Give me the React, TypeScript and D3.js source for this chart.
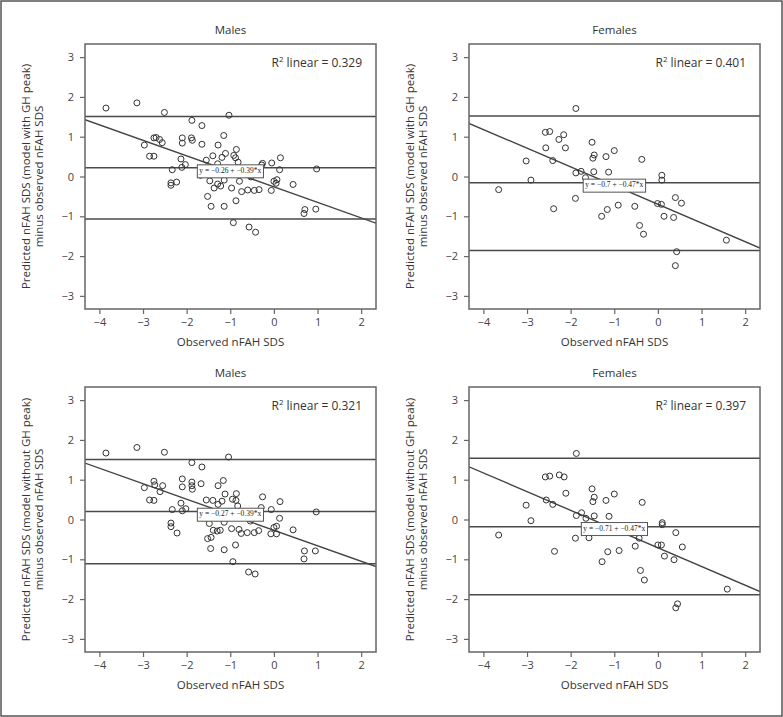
import React, { useEffect, useRef } from 'react';
import * as d3 from 'd3';

const panelTitles = ['Males', 'Females', 'Males', 'Females'];
const yTitlesLine1 = [
  'Predicted nFAH SDS (model with GH peak)',
  'Predicted nFAH SDS (model with GH peak)',
  'Predicted nFAH SDS (model without GH peak)',
  'Predicted nFAH SDS (model without GH peak)',
];
const yTitleLine2 = 'minus observed nFAH SDS';
const xTitle = 'Observed nFAH SDS';
const r2Values = ['0.329', '0.401', '0.321', '0.397'];
const intercepts = [-0.26, -0.7, -0.27, -0.71];
const slopes = [-0.39, -0.47, -0.39, -0.47];
const equationLabels = ['y = −0.26 + −0.39*x', 'y = −0.7 + −0.47*x', 'y = −0.27 + −0.39*x', 'y = −0.71 + −0.47*x'];
const upperLimits = [1.51, 1.52, 1.51, 1.54];
const meanDiffs = [0.22, -0.16, 0.2, -0.18];
const lowerLimits = [-1.07, -1.86, -1.11, -1.89];
const xTicks = [-4, -3, -2, -1, 0, 1, 2];
const yTicks = [-3, -2, -1, 0, 1, 2, 3];

const malesWithGH: [number, number][] = [
  [-3.85, 1.72], [-3.14, 1.85], [-2.51, 1.61], [-1.03, 1.54], [-1.88, 1.41], [-1.65, 1.28], [-1.15, 1.03],
  [-2.75, 0.97], [-2.7, 0.98], [-2.62, 0.93], [-2.56, 0.85], [-2.1, 0.97], [-1.89, 0.97], [-1.87, 0.91],
  [-2.1, 0.84], [-2.97, 0.79], [-1.65, 0.81], [-1.28, 0.79], [-1.11, 0.58], [-0.86, 0.68], [-0.92, 0.53],
  [-0.88, 0.47], [-1.19, 0.48], [-1.4, 0.52], [-2.85, 0.51], [-2.75, 0.51], [-2.13, 0.44], [-2.03, 0.3],
  [-2.11, 0.23], [-1.55, 0.41], [-1.29, 0.32], [-0.82, 0.36], [-0.26, 0.33], [-0.28, 0.29], [-0.05, 0.34],
  [0.15, 0.47], [0.13, 0.17], [0.98, 0.19], [-2.33, 0.17], [-1.68, 0.03], [-1.47, -0.11], [-1.29, -0.19],
  [-1.22, -0.24], [-1.37, -0.29], [-1.14, -0.09], [-0.97, -0.29], [-0.79, -0.12], [-0.74, -0.38],
  [-0.6, -0.34], [-0.45, -0.35], [-0.34, -0.33], [-0.53, -0.01], [-0.06, -0.35], [0.0, -0.12], [0.07, -0.08],
  [0.05, -0.17], [0.44, -0.2], [-2.36, -0.16], [-2.36, -0.22], [-2.23, -0.14], [-1.52, -0.5], [-1.44, -0.75],
  [-1.14, -0.75], [-0.87, -0.61], [0.71, -0.83], [0.69, -0.93], [0.96, -0.82], [-0.93, -1.16], [-0.57, -1.27],
  [-0.42, -1.4],
];

const femalesWithGH: [number, number][] = [
  [-1.88, 1.71], [-2.58, 1.11], [-2.48, 1.13], [-2.16, 1.05], [-2.27, 0.93], [-2.57, 0.72], [-2.12, 0.72],
  [-1.51, 0.86], [-1.0, 0.65], [-1.46, 0.54], [-1.49, 0.46], [-1.19, 0.5], [-0.37, 0.43], [-3.02, 0.39],
  [-2.41, 0.4], [-1.88, 0.09], [-1.76, 0.13], [-1.66, -0.03], [-1.47, 0.12], [-1.13, 0.11], [-2.91, -0.09],
  [0.09, 0.03], [0.09, -0.09], [-3.65, -0.33], [-1.89, -0.55], [-2.39, -0.81], [-1.29, -1.0], [-1.16, -0.83],
  [-0.91, -0.72], [-0.53, -0.75], [-0.01, -0.68], [0.08, -0.7], [0.4, -0.53], [0.54, -0.67], [0.14, -1.0],
  [0.36, -1.03], [-0.42, -1.23], [-0.33, -1.45], [1.57, -1.6], [0.43, -1.89], [0.4, -2.24],
];

const malesWithoutGH: [number, number][] = [
  [-3.85, 1.67], [-3.14, 1.81], [-2.51, 1.69], [-1.04, 1.57], [-1.88, 1.43], [-1.65, 1.32], [-1.16, 0.98],
  [-2.1, 1.02], [-2.75, 0.96], [-2.73, 0.87], [-2.55, 0.85], [-2.97, 0.8], [-1.88, 0.94], [-1.88, 0.85],
  [-1.87, 0.76], [-2.1, 0.82], [-1.67, 0.9], [-1.28, 0.85], [-2.61, 0.7], [-1.12, 0.64], [-0.86, 0.65],
  [-0.95, 0.51], [-0.87, 0.48], [-1.19, 0.46], [-1.55, 0.49], [-1.4, 0.48], [-1.28, 0.38], [-0.83, 0.34],
  [-0.26, 0.57], [0.14, 0.45], [-2.85, 0.49], [-2.75, 0.48], [-2.13, 0.41], [-2.02, 0.27], [-2.1, 0.22],
  [-2.33, 0.25], [-0.29, 0.3], [-0.06, 0.25], [0.97, 0.19], [-1.68, 0.05], [-2.36, -0.09], [-2.36, -0.18],
  [-2.22, -0.34], [-1.48, -0.1], [-1.14, -0.07], [-1.39, -0.27], [-1.3, -0.29], [-1.23, -0.27], [-0.97, -0.23],
  [-0.8, -0.25], [-0.75, -0.35], [-0.61, -0.33], [-0.45, -0.33], [-0.35, -0.28], [-0.54, -0.04], [0.13, 0.03],
  [0.0, -0.2], [0.06, -0.17], [-0.07, -0.36], [0.06, -0.36], [0.44, -0.26], [-1.52, -0.48], [-1.44, -0.45],
  [-1.45, -0.73], [-1.14, -0.76], [-0.88, -0.64], [0.7, -0.79], [0.95, -0.79], [0.69, -0.99], [-0.94, -1.06],
  [-0.58, -1.32], [-0.43, -1.37],
];

const femalesWithoutGH: [number, number][] = [
  [-1.87, 1.66], [-2.58, 1.07], [-2.48, 1.09], [-2.26, 1.12], [-2.15, 1.07], [-1.51, 0.77], [-2.11, 0.66],
  [-1.0, 0.64], [-1.46, 0.56], [-1.49, 0.45], [-1.19, 0.48], [-0.36, 0.43], [-2.56, 0.49], [-3.02, 0.36],
  [-2.41, 0.38], [-1.87, 0.1], [-1.75, 0.17], [-1.65, 0.03], [-1.46, 0.09], [-1.12, 0.08], [-2.91, -0.03],
  [0.1, -0.08], [0.1, -0.13], [-3.65, -0.39], [-1.89, -0.47], [-1.58, -0.46], [-2.37, -0.8], [-1.28, -1.06],
  [-1.15, -0.81], [-0.89, -0.78], [-0.52, -0.67], [-0.43, -0.47], [0.41, -0.33], [0.0, -0.64], [0.08, -0.64],
  [0.56, -0.69], [0.15, -0.92], [0.37, -1.01], [-0.4, -1.28], [-0.31, -1.52], [1.59, -1.75], [0.45, -2.12],
  [0.41, -2.22],
];

const panelData = [malesWithGH, femalesWithGH, malesWithoutGH, femalesWithoutGH];

const WIDTH = 783;
const HEIGHT = 717;
const colLefts = [85, 469];
const rowTops = [44, 387];
const PW = 291;
const PH = 265;
const FONT = '"Open Sans", "DejaVu Sans", sans-serif';

export default function App() {
  const ref = useRef<SVGSVGElement | null>(null);

  useEffect(() => {
    const svg = d3.select(ref.current);
    svg.selectAll('*').remove();

    svg.append('rect')
      .attr('x', 1).attr('y', 1).attr('width', WIDTH - 2).attr('height', HEIGHT - 2)
      .attr('fill', '#fff').attr('stroke', '#555').attr('stroke-width', 1.5);

    panelData.forEach((pts, i) => {
      const left = colLefts[i % 2];
      const top = rowTops[Math.floor(i / 2)];
      const x = d3.scaleLinear().domain([-4.33, 2.34]).range([left, left + PW]);
      const y = d3.scaleLinear().domain([-3.33, 3.33]).range([top + PH, top]);
      const g = svg.append('g');

      // title
      g.append('text')
        .attr('x', left + PW / 2).attr('y', top - 13)
        .attr('text-anchor', 'middle').attr('dominant-baseline', 'middle')
        .attr('font-family', FONT).attr('font-size', 11.5).attr('fill', '#333')
        .text(panelTitles[i]);

      // x axis
      const xAxis = g.append('g').attr('transform', `translate(0,${top + PH})`)
        .call(d3.axisBottom(x).tickValues(xTicks).tickSize(5).tickPadding(4).tickFormat(d3.format('d')));
      xAxis.select('.domain').remove();
      xAxis.selectAll('line').attr('stroke', '#666').attr('stroke-width', 1.2);
      xAxis.selectAll('text').attr('font-family', FONT).attr('font-size', 11).attr('fill', '#444');

      const yAxis = g.append('g').attr('transform', `translate(${left},0)`)
        .call(d3.axisLeft(y).tickValues(yTicks).tickSize(5).tickPadding(6).tickFormat(d3.format('d')));
      yAxis.select('.domain').remove();
      yAxis.selectAll('line').attr('stroke', '#666').attr('stroke-width', 1.2);
      yAxis.selectAll('text').attr('font-family', FONT).attr('font-size', 11).attr('fill', '#444');

      // x title
      g.append('text')
        .attr('x', left + PW / 2).attr('y', top + PH + 34)
        .attr('text-anchor', 'middle').attr('dominant-baseline', 'middle')
        .attr('font-family', FONT).attr('font-size', 11.5).attr('fill', '#333')
        .text(xTitle);

      // y title
      const cy = top + PH / 2;
      const yt = g.append('text')
        .attr('transform', `translate(${left - 55},${cy}) rotate(-90)`)
        .attr('text-anchor', 'middle')
        .attr('font-family', FONT).attr('font-size', 11.5).attr('fill', '#333');
      yt.append('tspan').attr('x', 0).attr('y', 0).text(yTitlesLine1[i]);
      yt.append('tspan').attr('x', 0).attr('y', 13).text(yTitleLine2);

      // clip
      const clipId = `clip${i}`;
      svg.append('clipPath').attr('id', clipId)
        .append('rect').attr('x', left).attr('y', top).attr('width', PW).attr('height', PH);
      const plot = g.append('g').attr('clip-path', `url(#${clipId})`);

      // reference lines
      [upperLimits[i], meanDiffs[i], lowerLimits[i]].forEach((v) => {
        plot.append('line')
          .attr('x1', left).attr('x2', left + PW).attr('y1', y(v)).attr('y2', y(v))
          .attr('stroke', '#4a4a4a').attr('stroke-width', 1.5);
      });

      // regression line
      const [x0, x1] = x.domain();
      const line = d3.line<number>().x((d) => x(d)).y((d) => y(intercepts[i] + slopes[i] * d));
      plot.append('path').datum([x0, x1]).attr('d', line)
        .attr('fill', 'none').attr('stroke', '#444').attr('stroke-width', 1.4);

      // points
      plot.selectAll('circle.pt').data(pts).enter().append('circle')
        .attr('cx', (d) => x(d[0])).attr('cy', (d) => y(d[1])).attr('r', 3)
        .attr('fill', 'none').attr('stroke', '#333').attr('stroke-width', 1);

      // equation label
      const ex = x(-1);
      const ey = y(intercepts[i] + slopes[i] * -1);
      const eg = g.append('g');
      const rect = eg.append('rect');
      const et = eg.append('text')
        .attr('x', ex).attr('y', ey)
        .attr('text-anchor', 'middle').attr('dominant-baseline', 'middle')
        .attr('font-family', '"Liberation Serif", serif').attr('font-size', 7.5).attr('fill', '#222')
        .text(equationLabels[i]);
      const bb = (et.node() as SVGTextElement).getBBox();
      rect.attr('x', bb.x - 2).attr('y', ey - 6.5).attr('width', bb.width + 4).attr('height', 13)
        .attr('fill', '#fff').attr('stroke', '#555').attr('stroke-width', 1);

      // frame
      g.append('rect').attr('x', left).attr('y', top).attr('width', PW).attr('height', PH)
        .attr('fill', 'none').attr('stroke', '#666').attr('stroke-width', 1.5);

      // R2
      const rt = g.append('text')
        .attr('x', left + PW - 14).attr('y', top + 23)
        .attr('text-anchor', 'end')
        .attr('font-family', FONT).attr('font-size', 12).attr('fill', '#333');
      rt.append('tspan').text('R');
      rt.append('tspan').attr('font-size', 8).attr('dy', -5).text('2');
      rt.append('tspan').attr('dy', 5).text(` linear = ${r2Values[i]}`);
    });
  }, []);

  return (
    <svg
      ref={ref}
      width={WIDTH}
      height={HEIGHT}
      style={{ position: 'absolute', left: 0, top: 0, background: '#fff' }}
    />
  );
}
